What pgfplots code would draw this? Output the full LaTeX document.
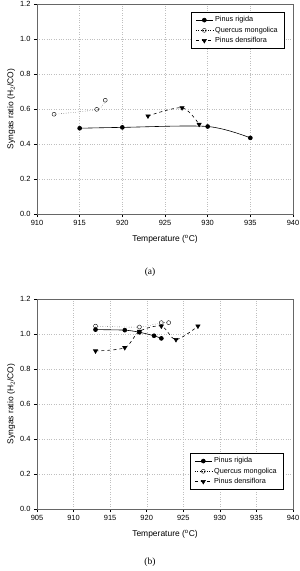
\documentclass[border=0pt]{standalone}
\usepackage{fontspec}
\setmainfont{Liberation Sans}
\newfontfamily\seriffont{Liberation Serif}
\usepackage{pgfplots}
\pgfplotsset{compat=1.18}
\pgfplotsset{
  myaxis/.style={
    scale only axis, width=256bp, height=210bp, anchor=south west,
    ymin=0, ymax=1.2, ytick={0,0.2,...,1.2},
    axis line style={gray!80!black, line width=0.5pt},
    tick style={black, line width=0.5pt},
    tick align=outside, xtick pos=bottom, ytick pos=left,
    major tick length=3bp,
    grid=major, grid style={dotted, gray!50},
    /pgf/number format/assume math mode=true,
    yticklabel style={font=\fontsize{7.5}{9}\selectfont, /pgf/number format/fixed, /pgf/number format/fixed zerofill, /pgf/number format/precision=1},
    xticklabel style={font=\fontsize{7.5}{9}\selectfont, /pgf/number format/set thousands separator={}},
    xlabel={Temperature (\textsuperscript{o}C)},
    ylabel={Syngas ratio (H$_2$/CO)},
    label style={font=\fontsize{8.5}{10}\selectfont},
    xlabel style={yshift=-3bp},
    ylabel style={yshift=-2bp},
    legend style={font=\fontsize{7.3}{8.8}\selectfont, draw=black, line width=0.5pt, inner xsep=4bp, inner ysep=2.5bp, row sep=-0.5pt, cells={anchor=west}},
  },
  rig/.style={black, line width=0.6pt, smooth, tension=0.5, mark=*, mark size=2pt, mark options={solid, fill=black}},
  que/.style={black, line width=0.4pt, dotted, smooth, tension=0.5, mark=o, mark size=2pt, mark options={solid, fill=white}},
  den/.style={black, line width=0.6pt, dashed, smooth, tension=0.5, mark=triangle*, mark size=2.4pt, mark options={solid, fill=black, rotate=180}},
}
\begin{document}
\begin{tikzpicture}
\path[use as bounding box] (0,0) rectangle (300bp,-571bp);
\begin{axis}[myaxis, at={(37bp,-214bp)}, xmin=910, xmax=940, xtick={910,915,...,940},
  legend style={at={(0.965,0.962)}, anchor=north east}]
\addplot[rig] coordinates {(915,0.490) (920,0.495) (930,0.500) (935,0.435)};
\addplot[que] coordinates {(912,0.570) (917,0.598) (918,0.650)};
\addplot[den] coordinates {(923,0.560) (927,0.607) (929,0.512)};
\legend{Pinus rigida, Quercus mongolica, Pinus densiflora}
\end{axis}
\node[font=\seriffont\fontsize{9.5}{11}\selectfont] at (150bp,-272bp) {(a)};
\begin{axis}[myaxis, at={(37bp,-509bp)}, xmin=905, xmax=940, xtick={905,910,...,940},
  legend style={at={(0.961,0.267)}, anchor=north east}]
\addplot[rig] coordinates {(913,1.025) (917,1.022) (919,1.010) (921,0.990) (922,0.975)};
\addplot[que] coordinates {(913,1.045) (919,1.040) (922,1.065) (923,1.065)};
\addplot[den] coordinates {(913,0.903) (917,0.922) (919,1.015) (922,1.045) (924,0.968) (927,1.045)};
\legend{Pinus rigida, Quercus mongolica, Pinus densiflora}
\end{axis}
\node[font=\seriffont\fontsize{9.5}{11}\selectfont] at (150bp,-562bp) {(b)};
\end{tikzpicture}
\end{document}
